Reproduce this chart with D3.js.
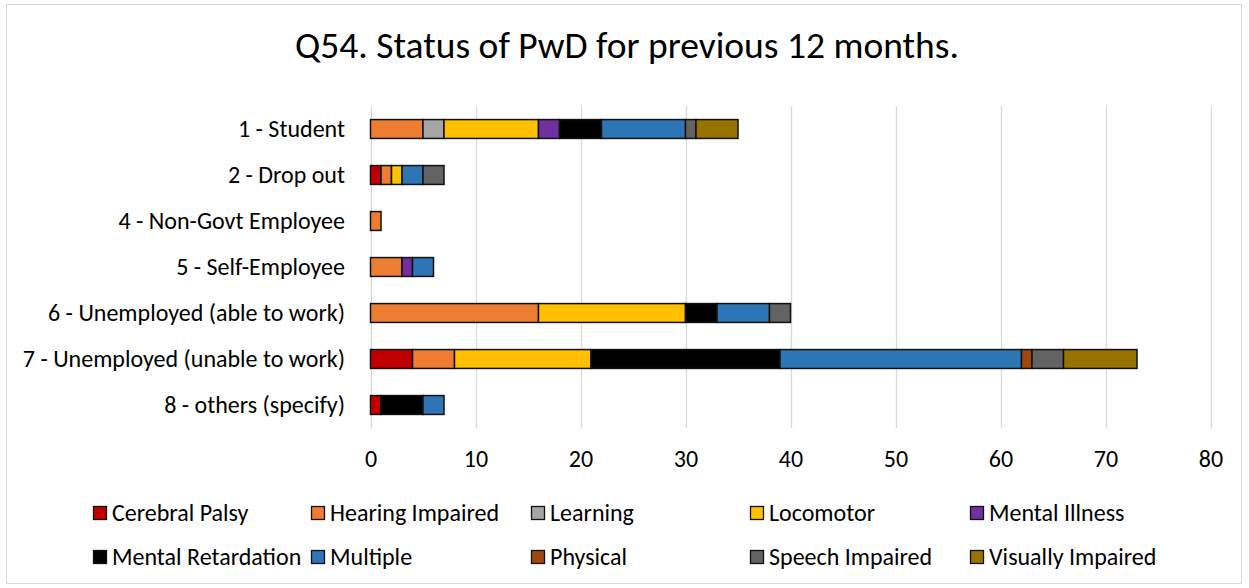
<!DOCTYPE html>
<html>
<head>
<meta charset="utf-8">
<script src="https://cdn.jsdelivr.net/npm/d3@7"></script>
<style>
  html, body { margin: 0; padding: 0; background: #fff; }
  svg { display: block; font-family: Carlito, "Open Sans", sans-serif; }
</style>
</head>
<body>
<svg id="chart" width="1249" height="588"></svg>
<script>
// Employment / activity status categories (y axis, top to bottom)
const categories = [
  "1 - Student",
  "2 - Drop out",
  "4 - Non-Govt Employee",
  "5 - Self-Employee",
  "6 - Unemployed (able to work)",
  "7 - Unemployed (unable to work)",
  "8 - others (specify)"
];

// Disability types (stack order, left to right)
const seriesNames = [
  "Cerebral Palsy", "Hearing Impaired", "Learning", "Locomotor", "Mental Illness",
  "Mental Retardation", "Multiple", "Physical", "Speech Impaired", "Visually Impaired"
];

// Counts per category, one array per disability type
const cerebralPalsy     = [0, 1, 0, 0, 0, 4, 1];
const hearingImpaired   = [5, 1, 1, 3, 16, 4, 0];
const learning          = [2, 0, 0, 0, 0, 0, 0];
const locomotor         = [9, 1, 0, 0, 14, 13, 0];
const mentalIllness     = [2, 0, 0, 1, 0, 0, 0];
const mentalRetardation = [4, 0, 0, 0, 3, 18, 4];
const multiple          = [8, 2, 0, 2, 5, 23, 2];
const physical          = [0, 0, 0, 0, 0, 1, 0];
const speechImpaired    = [1, 2, 0, 0, 2, 3, 0];
const visuallyImpaired  = [4, 0, 0, 0, 0, 7, 0];

const xTicks = [0, 10, 20, 30, 40, 50, 60, 70, 80];

const seriesValues = [
  cerebralPalsy, hearingImpaired, learning, locomotor, mentalIllness,
  mentalRetardation, multiple, physical, speechImpaired, visuallyImpaired
];

const seriesColors = [
  "#C00000", "#ED7D31", "#A5A5A5", "#FFC000", "#7030A0",
  "#000000", "#2E75B6", "#9E480E", "#636363", "#997300"
];

const FONT = "Carlito, 'Open Sans', sans-serif";
const LABEL_SIZE = 24;

// Build a table the stack layout can consume
const rows = categories.map((c, i) => {
  const r = { category: c };
  seriesNames.forEach((s, j) => { r[s] = seriesValues[j][i]; });
  return r;
});

const svg = d3.select("#chart");
const W = 1249, H = 588;

// Outer chart border
svg.append("rect")
  .attr("x", 6.5).attr("y", 4.5)
  .attr("width", W - 14).attr("height", H - 9)
  .attr("fill", "#fff").attr("stroke", "#d9d9d9").attr("stroke-width", 1);

// Title
svg.append("text")
  .attr("x", 627).attr("y", 58)
  .attr("text-anchor", "middle")
  .attr("font-size", 37.5)
  .attr("fill", "#000")
  .text("Q54. Status of PwD for previous 12 months.");

const x = d3.scaleLinear().domain([0, 80]).range([370.5, 1210.5]);
const y = d3.scaleBand().domain(categories).range([106, 428]).paddingInner(0.59).paddingOuter(0.295);

// Vertical gridlines
svg.append("g")
  .selectAll("line")
  .data(xTicks)
  .join("line")
  .attr("x1", d => Math.round(x(d)) + 0.5).attr("x2", d => Math.round(x(d)) + 0.5)
  .attr("y1", 106).attr("y2", 428)
  .attr("stroke", "#d9d9d9").attr("stroke-width", 1.3);

// X axis tick labels
const xAxis = d3.axisBottom(x).tickValues(xTicks).tickSize(0).tickPadding(0);
const gx = svg.append("g").attr("transform", "translate(0,451)").call(xAxis);
gx.select(".domain").remove();
gx.selectAll("text")
  .attr("font-family", FONT)
  .attr("font-size", LABEL_SIZE).attr("fill", "#000").attr("dy", "0.66em");

// Category labels
const yAxis = d3.axisLeft(y).tickSize(0).tickPadding(25);
const gy = svg.append("g").attr("transform", "translate(370,0)").call(yAxis);
gy.select(".domain").remove();
gy.selectAll("text")
  .attr("font-family", FONT)
  .attr("font-size", LABEL_SIZE).attr("fill", "#000");

// Stacked bars
const stacked = d3.stack().keys(seriesNames)(rows);
const layers = svg.append("g").selectAll("g")
  .data(stacked)
  .join("g")
  .attr("fill", (d, i) => seriesColors[i]);

layers.selectAll("rect")
  .data(d => d.filter(p => p[1] - p[0] > 0))
  .join("rect")
  .attr("x", p => x(p[0]))
  .attr("y", p => y(p.data.category))
  .attr("width", p => x(p[1]) - x(p[0]))
  .attr("height", y.bandwidth())
  .attr("stroke", "#111")
  .attr("stroke-width", 1.5);

// Legend: five columns, two rows
const legend = svg.append("g");
const colX = [93, 311, 531, 750, 970];
const rowY = [513, 557];
seriesNames.forEach((name, i) => {
  const cx = colX[i % 5], cy = rowY[Math.floor(i / 5)];
  const item = legend.append("g");
  item.append("rect")
    .attr("x", cx + 0.5).attr("y", cy - 6.5)
    .attr("width", 13).attr("height", 13)
    .attr("fill", seriesColors[i]).attr("stroke", "#111").attr("stroke-width", 1.3);
  item.append("text")
    .attr("x", cx + 19).attr("y", cy)
    .attr("dy", "0.33em")
    .attr("font-family", FONT)
    .attr("font-size", LABEL_SIZE).attr("fill", "#000")
    .text(name);
});
</script>
</body>
</html>
